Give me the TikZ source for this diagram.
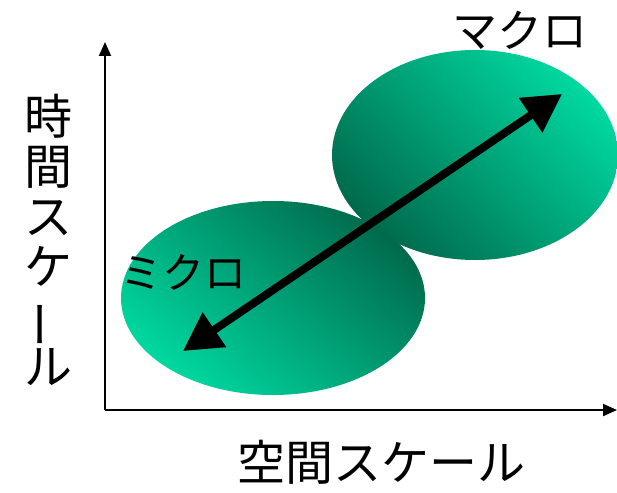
\documentclass[tikz,border=0pt]{standalone}
\usepackage{fontspec}
\setmainfont{Noto Sans CJK JP}
\usetikzlibrary{arrows.meta}
\definecolor{lightg}{HTML}{00D8A0}
\definecolor{darkg}{HTML}{006A4C}
\tikzset{
  axis/.style={line width=2pt,-{Triangle[length=14pt,width=12pt]}},
  bigarrow/.style={line width=8pt,{Triangle[length=38pt,width=40pt]}-{Triangle[length=38pt,width=40pt]}},
  axlbl/.style={inner sep=0pt,font=\fontsize{48}{52}\selectfont}
}
\begin{document}
\begin{tikzpicture}[x=1pt,y=-1pt]
\useasboundingbox (0,0) rectangle (617,492);
% ellipses
\shade[top color=darkg,bottom color=lightg,shading angle=-40] (273,298) ellipse [x radius=152,y radius=97];
\shade[top color=lightg,bottom color=darkg,shading angle=-45] (475,155) ellipse [x radius=143,y radius=105];
% axes
\coordinate (o) at (105,410);
\coordinate (yt) at (105,42);
\coordinate (xt) at (617,410);
\draw[axis] (o) -- (yt);
\draw[axis] (o) -- (xt);
% big arrow
\coordinate (a1) at (183,351);
\coordinate (a2) at (562,94);
\draw[bigarrow] (a1) -- (a2);
% labels
\node[inner sep=0pt,font=\fontsize{45}{48}\selectfont] (macro) at (520,30) {マクロ};
\node[inner sep=0pt,font=\fontsize{42}{46}\selectfont] (micro) at (183,272) {ミクロ};
\node[axlbl] (xl) at (381,462) {空間スケール};
\node[axlbl,align=center] (yl) at (48,240) {時\\[-2pt]間\\[-2pt]ス\\[-2pt]ケ\\[-2pt]\rotatebox[origin=c]{90}{ー}\\[-2pt]ル};
\end{tikzpicture}
\end{document}
